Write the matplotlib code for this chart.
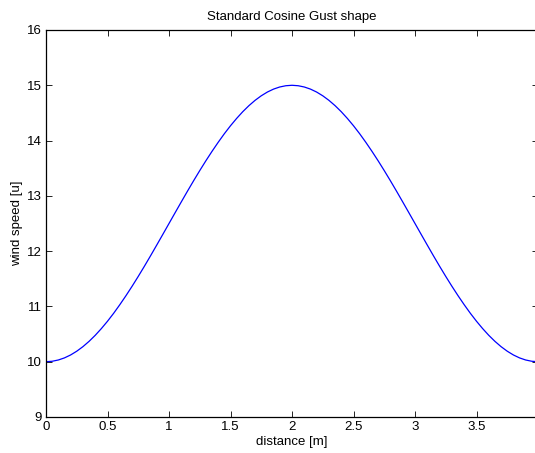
import numpy as np
import matplotlib.pyplot as plt

plt.rcParams['font.family'] = ['Liberation Sans', 'DejaVu Sans']

# distance along the gust [m] and wind speed
distance = np.round(np.arange(0, 4.001, 0.05), 2)
speed_half = [10.000, 10.008, 10.031, 10.069, 10.122, 10.190, 10.272, 10.368,
              10.477, 10.599, 10.732, 10.876, 11.031, 11.194, 11.365, 11.543,
              11.727, 11.916, 12.109, 12.304, 12.500, 12.696, 12.891, 13.084,
              13.273, 13.457, 13.635, 13.806, 13.969, 14.124, 14.268, 14.401,
              14.523, 14.632, 14.728, 14.810, 14.878, 14.931, 14.969, 14.992,
              15.000]
speed = speed_half + speed_half[-2::-1]

xticks = [0, 0.5, 1, 1.5, 2, 2.5, 3, 3.5, 4]
xtick_labels = ['0', '0.5', '1', '1.5', '2', '2.5', '3', '3.5', '4']
yticks = [9, 10, 11, 12, 13, 14, 15, 16]

fig = plt.figure(figsize=(5.35, 4.53), dpi=100)
ax = fig.add_axes([46 / 535, 36 / 453, 492 / 535, 387 / 453])

ax.plot(distance, speed, c='#0000ff', lw=0.9)

ax.set_xlim(0, 4)
ax.set_ylim(9, 16)
ax.set_xticks(xticks)
ax.set_xticklabels(xtick_labels)
ax.set_yticks(yticks)
ax.tick_params(direction='in', top=True, right=True, length=4, width=0.6,
               labelsize=9.5, pad=3)
for s in ax.spines.values():
    s.set_linewidth(0.9)

ax.set_title("Standard Cosine Gust shape", fontsize=9.5, pad=7)
ax.set_xlabel("distance [m]", fontsize=9.5, labelpad=2)
ax.set_ylabel("wind speed [u]", fontsize=9.5, labelpad=3)

fig.savefig("out.png", dpi=100)
